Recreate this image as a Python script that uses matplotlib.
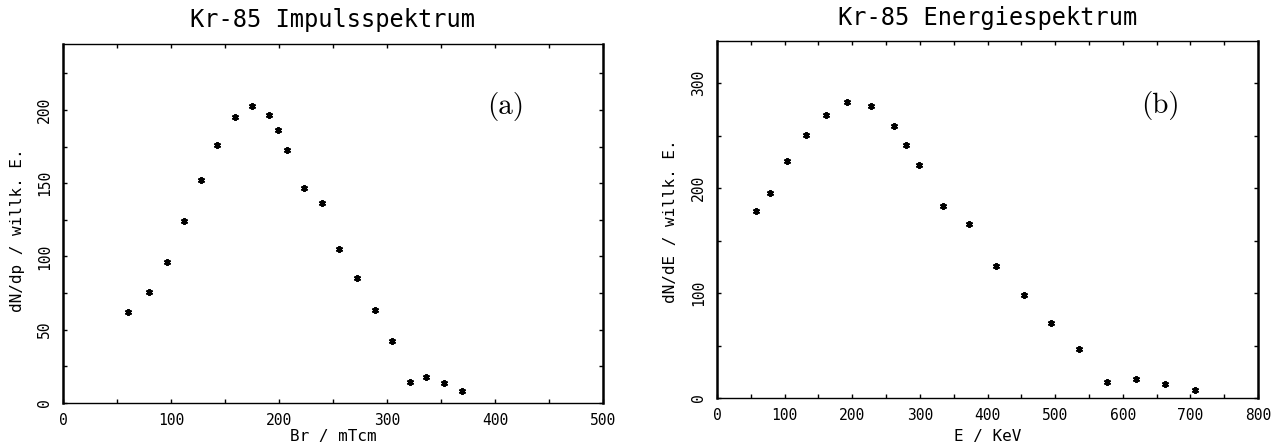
import matplotlib
matplotlib.use('Agg')
import matplotlib.pyplot as plt
from matplotlib.ticker import MultipleLocator

# Kr-85 momentum spectrum (a)
br = [60, 80, 96, 112, 127.5, 143, 159, 175, 190.5, 199, 207, 223, 239.5,
      256, 272, 288.5, 304.5, 321, 336.5, 353, 369]
dndp = [62, 76, 96, 124, 152, 176, 195.5, 202.5, 196.5, 186, 173, 147, 136.5,
        105, 85, 63.5, 42, 14, 17.5, 13.5, 8]

# Kr-85 energy spectrum (b)
energy = [57.5, 78.5, 104, 131, 161, 192.5, 227, 261.5, 279, 298.5, 334.5,
          372.5, 412, 454.5, 494.5, 535, 577, 619, 662.5, 706.5]
dnde = [178, 195, 225.5, 250.5, 270, 282, 278, 259.5, 241, 221.5, 182.5,
        165.5, 125.5, 98.5, 71.5, 46.5, 15, 18.5, 13.5, 7.5]

mono = 'DejaVu Sans Mono'
W, H = 1279, 446

fig = plt.figure(figsize=(12.79, 4.46), dpi=100)
ax1 = fig.add_axes([63 / W, 1 - 403 / H, 540 / W, 359 / H])
ax2 = fig.add_axes([717 / W, 1 - 398 / H, 541 / W, 357 / H])


def style(ax, xlim, ylim, xmaj, ymaj):
    ax.set_xlim(*xlim)
    ax.set_ylim(*ylim)
    ax.xaxis.set_major_locator(MultipleLocator(xmaj))
    ax.xaxis.set_minor_locator(MultipleLocator(xmaj / 2))
    ax.yaxis.set_major_locator(MultipleLocator(ymaj))
    ax.yaxis.set_minor_locator(MultipleLocator(ymaj / 2))
    ax.tick_params(which='both', direction='in', top=True, right=True,
                   length=3, width=1, color='black')
    ax.tick_params(axis='x', pad=7)
    ax.tick_params(axis='y', pad=8)
    for lab in ax.get_xticklabels() + ax.get_yticklabels():
        lab.set_fontfamily(mono)
        lab.set_fontsize(10.5)
    for lab in ax.get_yticklabels():
        lab.set_rotation(90)
        lab.set_va('center')
    for side in ['left', 'right']:
        ax.spines[side].set_linewidth(1.8)
    for side in ['top', 'bottom']:
        ax.spines[side].set_linewidth(1.0)


ax1.plot(br, dndp, linestyle='none', marker=(6, 2, 0), markersize=5,
         markeredgewidth=1.4, color='black')
style(ax1, (0, 500), (0, 245), 100, 50)

ax2.plot(energy, dnde, linestyle='none', marker=(6, 2, 0), markersize=5,
         markeredgewidth=1.4, color='black')
style(ax2, (0, 800), (0, 340), 100, 100)

# titles and axis labels
fig.text(333 / W, 1 - 20 / H, 'Kr-85 Impulsspektrum', ha='center', va='center',
         fontfamily=mono, fontsize=17)
fig.text(988 / W, 1 - 18 / H, 'Kr-85 Energiespektrum', ha='center', va='center',
         fontfamily=mono, fontsize=17)
fig.text(333 / W, 1 - 437 / H, 'Br / mTcm', ha='center', va='center',
         fontfamily=mono, fontsize=11.5)
fig.text(988 / W, 1 - 437 / H, 'E / KeV', ha='center', va='center',
         fontfamily=mono, fontsize=11.5)
fig.text(18 / W, 1 - 230 / H, 'dN/dp / willk. E.', ha='center', va='center',
         rotation=90, fontfamily=mono, fontsize=11.5)
fig.text(671 / W, 1 - 221 / H, 'dN/dE / willk. E.', ha='center', va='center',
         rotation=90, fontfamily=mono, fontsize=11.5)

# panel letters
ax1.text(0.82, 0.825, '(a)', transform=ax1.transAxes, ha='center', va='center',
         fontfamily='cmr10', fontsize=21)
ax2.text(0.82, 0.82, '(b)', transform=ax2.transAxes, ha='center', va='center',
         fontfamily='cmr10', fontsize=21)

fig.savefig('out.png', dpi=100, facecolor='white')
